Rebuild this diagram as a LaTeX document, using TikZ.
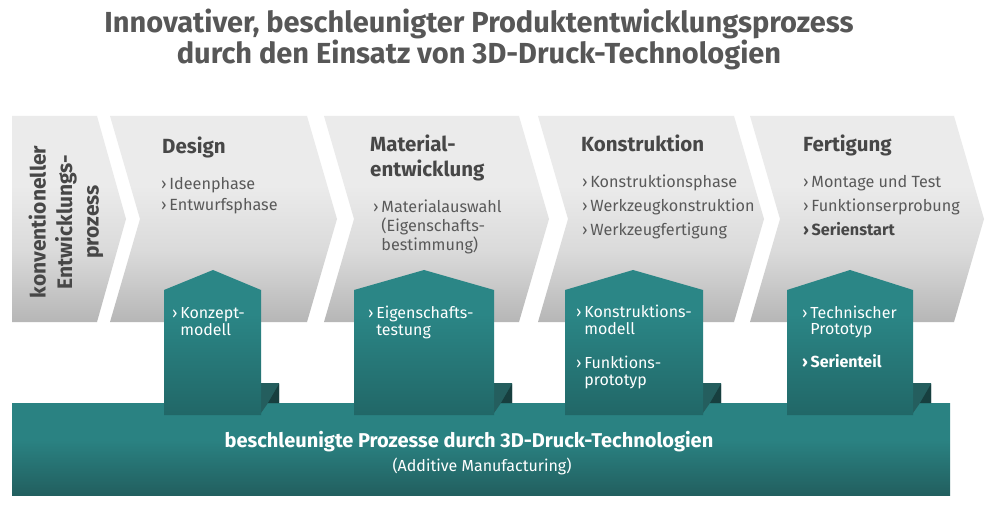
\documentclass[tikz,border=0pt]{standalone}
\usepackage{fontspec}
\setmainfont{Fira Sans}
\definecolor{titlegray}{HTML}{575757}
\definecolor{headgray}{HTML}{474747}
\definecolor{listgray}{HTML}{595959}
\definecolor{ctop}{HTML}{EBEBEB}
\definecolor{cmid}{HTML}{DADADA}
\definecolor{cbot}{HTML}{B6B6B6}
\definecolor{htop}{HTML}{2B8686}
\definecolor{hbot}{HTML}{216767}
\definecolor{btop}{HTML}{2A8282}
\definecolor{bbot}{HTML}{225F5F}
\definecolor{folddark}{HTML}{173F3F}
\definecolor{foldmid}{HTML}{245E5E}
\pgfdeclareverticalshading{chev}{100bp}{color(0bp)=(cbot); color(25bp)=(cbot); color(42bp)=(cmid); color(58bp)=(ctop); color(100bp)=(ctop)}
\pgfdeclareverticalshading{house}{100bp}{color(0bp)=(hbot); color(25bp)=(hbot); color(60bp)=(htop); color(100bp)=(htop)}
\pgfdeclareverticalshading{bar}{100bp}{color(0bp)=(bbot); color(25bp)=(bbot); color(55bp)=(btop); color(100bp)=(btop)}
\tikzset{
  chevbox/.style={shading=chev},
  housebox/.style={shading=house},
  titletext/.style={font=\bfseries\fontsize{29}{34}\selectfont, text=titlegray, inner sep=0pt, anchor=base},
  headtext/.style={font=\bfseries\fontsize{20.5}{25}\selectfont, text=headgray, inner sep=0pt, anchor=base west},
  listtext/.style={font=\fontsize{16.2}{20}\selectfont, text=listgray, inner sep=0pt, anchor=base west},
  housetext/.style={font=\fontsize{16}{18}\selectfont, text=white, inner sep=0pt, anchor=base west},
}
\newcommand{\bl}{›\,}
\newcommand{\ind}{\phantom{›\,}}
\begin{document}
\begin{tikzpicture}[x=1pt,y=-1pt]
\useasboundingbox[fill=white] (0,0) rectangle (1000,510);
% title
\node[titletext] (t1) at (479,33) {Innovativer, beschleunigter Produktentwicklungsprozess};
\node[titletext] (t2) at (479,64) {durch den Einsatz von 3D-Druck-Technologien};
% chevrons
\path[chevbox] (12,116) -- (97,116) -- (126,219) -- (97,322) -- (12,322) -- cycle;
\foreach \L/\R in {110/307, 324/519, 538/734, 750/954}{
  \path[chevbox] (\L,116) -- (\R,116) -- (\R+30,219) -- (\R,322) -- (\L,322) -- (\L+30,219) -- cycle;
}
% bar
\path[shading=bar] (12,403) rectangle (950,495);
% folds and houses
\foreach \L/\P/\R in {164/213/261, 354/424/494, 565/633/703, 787/850/913}{
  \fill[foldmid] (\R,383) -- (\R+18,383) -- (\R+18,403) -- (\R+7,403) -- (\R,413) -- cycle;
  \fill[folddark] (\R+18,384) -- (\R+18,403) -- (\R+7,403) -- cycle;
  \path[housebox] (\L,290) -- (\P,270) -- (\R,290) -- (\R,415) -- (\L,415) -- cycle;
}
% vertical label
\node[font=\bfseries\fontsize{21}{26.5}\selectfont, text=headgray, rotate=90, align=center, inner sep=0pt] (conv) at (66,222) {konventioneller\\Entwicklungs-\\prozess};
% Design
\node[headtext] (hdesign) at (162,154) {Design};
\node[listtext] (ld1) at (161,190) {\bl Ideenphase};
\node[listtext] (ld2) at (161,211) {\bl Entwurfsphase};
% Material
\node[headtext] (hmat1) at (370,152) {Material-};
\node[headtext] (hmat2) at (370,177) {entwicklung};
\node[listtext] (lm1) at (373,213) {\bl Materialauswahl};
\node[listtext] (lm2) at (373,232) {\ind(Eigenschafts-};
\node[listtext] (lm3) at (373,251) {\ind bestimmung)};
% Konstruktion
\node[headtext] (hkon) at (581,152) {Konstruktion};
\node[listtext] (lk1) at (582,188) {\bl Konstruktionsphase};
\node[listtext] (lk2) at (582,212) {\bl Werkzeugkonstruktion};
\node[listtext] (lk3) at (582,236) {\bl Werkzeugfertigung};
% Fertigung
\node[headtext] (hfer) at (803,152) {Fertigung};
\node[listtext] (lf1) at (803,188) {\bl Montage und Test};
\node[listtext] (lf2) at (803,212) {\bl Funktionserprobung};
\node[listtext, font=\bfseries\fontsize{16.2}{20}\selectfont, text=headgray] (lf3) at (803,236) {\bl Serienstart};
% house texts
\node[housetext] (h1a) at (172,318) {\bl Konzept-};
\node[housetext] (h1b) at (172,335) {\ind modell};
\node[housetext] (h2a) at (368,318) {\bl Eigenschafts-};
\node[housetext] (h2b) at (368,335) {\ind testung};
\node[housetext] (h3a) at (576,317) {\bl Konstruktions-};
\node[housetext] (h3b) at (576,334) {\ind modell};
\node[housetext] (h3c) at (576,368) {\bl Funktions-};
\node[housetext] (h3d) at (576,385) {\ind prototyp};
\node[housetext] (h4a) at (802,318) {\bl Technischer};
\node[housetext] (h4b) at (802,334) {\ind Prototyp};
\node[housetext, font=\bfseries\fontsize{16}{18}\selectfont] (h4c) at (802,367) {\bl Serienteil};
% bar text
\node[font=\bfseries\fontsize{20}{24}\selectfont, text=white, anchor=base, inner sep=0pt] (bar1) at (469,447) {beschleunigte Prozesse durch 3D-Druck-Technologien};
\node[font=\fontsize{16}{19}\selectfont, text=white, anchor=base, inner sep=0pt] (bar2) at (482,471) {(Additive Manufacturing)};
\end{tikzpicture}
\end{document}
